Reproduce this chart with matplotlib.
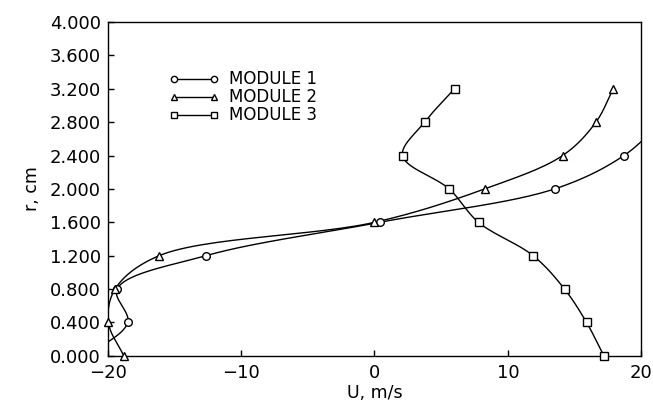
import numpy as np
import matplotlib
matplotlib.use('Agg')
import matplotlib.pyplot as plt
from matplotlib.ticker import FormatStrFormatter

plt.rcParams['font.family'] = ['DejaVu Sans']

# radial positions (cm) and velocities (m/s)
r1 = [0.0, 0.4, 0.8, 1.2, 1.6, 2.0, 2.4, 2.8]
u1 = [-21.5, -18.5, -19.3, -12.65, 0.38, 13.5, 18.7, 21.5]

r2 = [0.0, 0.4, 0.8, 1.2, 1.6, 2.0, 2.4, 2.8, 3.2]
u2 = [-18.8, -19.95, -19.45, -16.15, 0.0, 8.25, 14.1, 16.6, 17.9]

r3 = [0.0, 0.4, 0.8, 1.2, 1.6, 2.0, 2.4, 2.8, 3.2]
u3 = [17.2, 15.9, 14.25, 11.9, 7.8, 5.6, 2.1, 3.75, 6.0]

labels = ['MODULE 1', 'MODULE 2', 'MODULE 3']
markers = ['o', '^', 's']


def smooth(xs, ys, sx, sy, n=30):
    # centripetal catmull-rom through the measured points (screen-scaled)
    P = np.column_stack([np.asarray(xs, float) / sx, np.asarray(ys, float) / sy])
    P = np.vstack([2 * P[0] - P[1], P, 2 * P[-1] - P[-2]])
    out = []
    for i in range(1, len(P) - 2):
        p0, p1, p2, p3 = P[i - 1:i + 3]
        t0 = 0.0
        t1 = t0 + np.linalg.norm(p1 - p0) ** 0.5
        t2 = t1 + np.linalg.norm(p2 - p1) ** 0.5
        t3 = t2 + np.linalg.norm(p3 - p2) ** 0.5
        t = np.linspace(t1, t2, n)[:, None]
        a1 = (t1 - t) / (t1 - t0) * p0 + (t - t0) / (t1 - t0) * p1
        a2 = (t2 - t) / (t2 - t1) * p1 + (t - t1) / (t2 - t1) * p2
        a3 = (t3 - t) / (t3 - t2) * p2 + (t - t2) / (t3 - t2) * p3
        b1 = (t2 - t) / (t2 - t0) * a1 + (t - t0) / (t2 - t0) * a2
        b2 = (t3 - t) / (t3 - t1) * a2 + (t - t1) / (t3 - t1) * a3
        c = (t2 - t) / (t2 - t1) * b1 + (t - t1) / (t2 - t1) * b2
        out.append(c)
    out = np.vstack(out)
    return out[:, 0] * sx, out[:, 1] * sy


fig = plt.figure(figsize=(6.53, 4.09), dpi=100)
ax = fig.add_axes([0.165, 0.13, 0.817, 0.816])

sx = 40 / 533.0
sy = 4 / 334.0
for u, r, m, lab in zip([u1, u2, u3], [r1, r2, r3], markers, labels):
    cx, cy = smooth(u, r, sx, sy)
    ax.plot(cx, cy, '-', color='black', lw=1.0, zorder=2)
    u = np.asarray(u)
    r = np.asarray(r)
    inside = np.abs(u) <= 20
    ax.plot(u[inside], r[inside], linestyle='none', marker=m, ms=5.5, mfc='white',
            mec='black', mew=1.0, zorder=3, clip_on=False)
    ax.plot([], [], '-', color='black', lw=1.0, marker=m, ms=4.5, mfc='white',
            mec='black', mew=1.0, label=lab)

ax.set_xlim(-20, 20)
ax.set_ylim(0, 4)
ax.set_xticks([-20, -10, 0, 10, 20])
ax.set_yticks(np.arange(0, 4.01, 0.4))
ax.yaxis.set_major_formatter(FormatStrFormatter('%.3f'))
ax.tick_params(direction='in', length=4, width=1, labelsize=13, pad=5)
ax.tick_params(axis='x', pad=6)
for s in ax.spines.values():
    s.set_linewidth(1.0)

ax.set_xlabel('U, m/s', fontsize=12.5, labelpad=1)
ax.set_ylabel('r, cm', fontsize=12.5, labelpad=6)

ax.legend(loc='upper left', bbox_to_anchor=(0.1, 0.88), frameon=False,
          numpoints=2, handlelength=3.0, handletextpad=0.6, labelspacing=0.0,
          fontsize=12, borderpad=0)

fig.savefig('out.png', dpi=100)
